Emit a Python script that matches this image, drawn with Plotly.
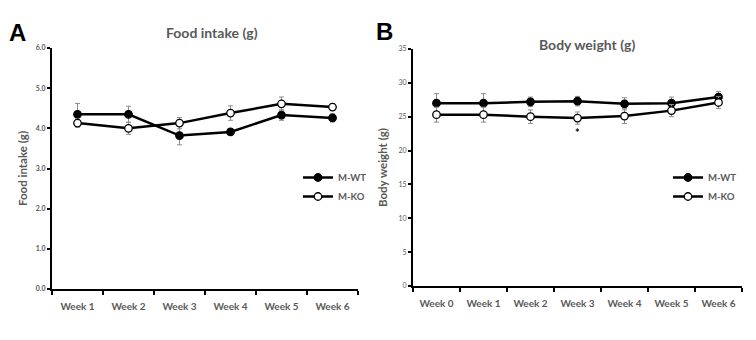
import plotly.graph_objects as go

# Panel A: food intake
weeks_a = ["Week 1", "Week 2", "Week 3", "Week 4", "Week 5", "Week 6"]
wt_food = [4.35, 4.35, 3.82, 3.91, 4.33, 4.26]
wt_food_err = [0.27, 0.2, 0.23, 0.07, 0.13, 0.1]
ko_food = [4.13, 4.0, 4.13, 4.38, 4.61, 4.53]
ko_food_err = [0.1, 0.15, 0.14, 0.18, 0.17, 0.08]

# Panel B: body weight
weeks_b = ["Week 0", "Week 1", "Week 2", "Week 3", "Week 4", "Week 5", "Week 6"]
wt_bw = [27.0, 27.0, 27.2, 27.3, 26.9, 27.0, 27.9]
wt_bw_err = [1.4, 1.4, 0.7, 0.7, 0.9, 0.9, 0.8]
ko_bw = [25.3, 25.3, 25.0, 24.8, 25.1, 25.9, 27.1]
ko_bw_err = [1.1, 1.1, 1.0, 0.9, 1.1, 0.9, 0.9]
star_week = "Week 3"
star_y = 22.6

FONT = "Lato"
GRAY = "#595959"
ERR = dict(type="data", thickness=1, width=2.5, color="#8c8c8c")

fig = go.Figure()

def add_series(x, y, err, name, fill, xa, ya, legend):
    fig.add_trace(go.Scatter(
        x=x, y=y, name=name, mode="lines+markers",
        line=dict(color="black", width=2.5),
        marker=dict(symbol="circle", size=7.5, color=fill,
                    line=dict(color="black", width=1.3)),
        error_y=dict(array=err, **ERR),
        xaxis=xa, yaxis=ya, legend=legend))

add_series(weeks_a, wt_food, wt_food_err, "M-WT", "black", "x", "y", "legend")
add_series(weeks_a, ko_food, ko_food_err, "M-KO", "white", "x", "y", "legend")
add_series(weeks_b, wt_bw, wt_bw_err, "M-WT", "black", "x2", "y2", "legend2")
add_series(weeks_b, ko_bw, ko_bw_err, "M-KO", "white", "x2", "y2", "legend2")

W, H = 756, 340
def px(xp): return xp / W
def py(yp): return 1 - yp / H

axis_common = dict(showline=True, linecolor="black", linewidth=2,
                   showgrid=False, zeroline=False, automargin=False,
                   ticks="outside", tickcolor="black", tickwidth=1.5)

fig.update_layout(
    width=W, height=H, margin=dict(l=0, r=0, t=0, b=0),
    paper_bgcolor="white", plot_bgcolor="white",
    font=dict(family=FONT, color=GRAY),
    xaxis=dict(domain=[px(52), px(358)], anchor="y", type="category",
               range=[-0.5, 5.5], tickson="boundaries", ticklen=4,
               ticklabelstandoff=7,
               tickfont=dict(size=10, color=GRAY, weight="bold"),
               **axis_common),
    yaxis=dict(domain=[py(289), py(48)], anchor="x", range=[0, 6],
               tickvals=[0, 1, 2, 3, 4, 5, 6], tickformat=".1f", ticklen=3,
               tickfont=dict(size=7, color=GRAY, weight="bold"),
               title=dict(text="Food intake (g)", standoff=6,
                          font=dict(size=11.5, color=GRAY, weight="bold")),
               **axis_common),
    xaxis2=dict(domain=[px(413), px(742)], anchor="y2", type="category",
                range=[-0.5, 6.5], tickson="boundaries", ticklen=4,
                ticklabelstandoff=7,
                tickfont=dict(size=10, color=GRAY, weight="bold"),
                **axis_common),
    yaxis2=dict(domain=[py(286), py(49)], anchor="x2", range=[0, 35],
                tickvals=[0, 5, 10, 15, 20, 25, 30, 35], ticklen=3,
                tickfont=dict(size=7, color=GRAY),
                title=dict(text="Body weight (g)", standoff=8,
                           font=dict(size=11.5, color=GRAY, weight="bold")),
                **axis_common),
    legend=dict(x=px(298), y=py(163), xanchor="left", yanchor="top",
                bgcolor="rgba(0,0,0,0)", itemwidth=30, tracegroupgap=0,
                font=dict(size=9.5, color=GRAY, weight="bold")),
    legend2=dict(x=px(668), y=py(163), xanchor="left", yanchor="top",
                 bgcolor="rgba(0,0,0,0)", itemwidth=30, tracegroupgap=0,
                 font=dict(size=9.5, color=GRAY, weight="bold")),
    showlegend=True,
)

annotations = [
    dict(text="A", x=px(7), y=py(32), xref="paper", yref="paper",
         xanchor="left", yanchor="middle", showarrow=False,
         font=dict(family="Arial", size=24, color="black", weight="bold")),
    dict(text="B", x=px(374), y=py(31), xref="paper", yref="paper",
         xanchor="left", yanchor="middle", showarrow=False,
         font=dict(family="Arial", size=24, color="black", weight="bold")),
    dict(text="Food intake (g)", x=px(212), y=py(32), xref="paper", yref="paper",
         xanchor="center", yanchor="middle", showarrow=False,
         font=dict(size=14, color=GRAY, weight="bold")),
    dict(text="Body weight (g)", x=px(587), y=py(45), xref="paper", yref="paper",
         xanchor="center", yanchor="middle", showarrow=False,
         font=dict(size=14, color=GRAY, weight="bold")),
    dict(text="*", x=star_week, y=star_y, xref="x2", yref="y2",
         xanchor="center", yanchor="middle", showarrow=False,
         font=dict(size=11, color="black", weight="bold")),
]
fig.update_layout(annotations=annotations)

fig.write_html("out.html")
